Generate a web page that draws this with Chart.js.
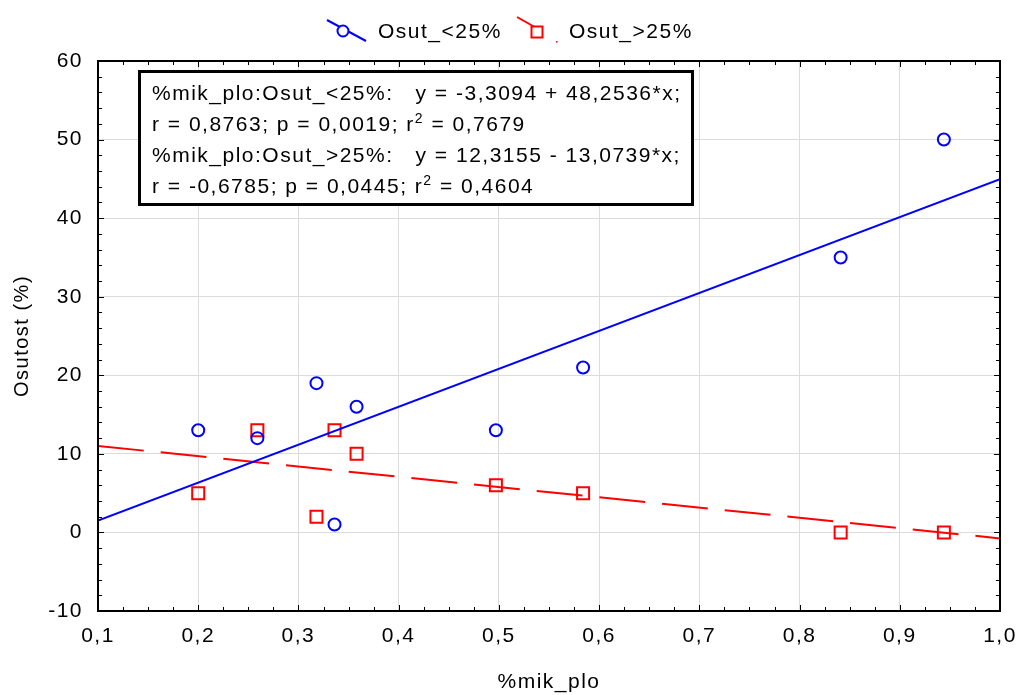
<!DOCTYPE html>
<html>
<head>
<meta charset="utf-8">
<script src="https://cdn.jsdelivr.net/npm/chart.js@4.4.1/dist/chart.umd.min.js"></script>
<style>
  body { margin: 0; background: #fff; }
</style>
</head>
<body>
<canvas id="chart" width="1017" height="695"></canvas>
<script>
// data
var x_low = [0.200, 0.259, 0.318, 0.336, 0.358, 0.497, 0.584, 0.841, 0.944];
var y_low = [13, 12, 19, 1, 16, 13, 21, 35, 50];
var x_high = [0.200, 0.259, 0.318, 0.336, 0.358, 0.497, 0.584, 0.841, 0.944];
var y_high = [5, 13, 2, 13, 10, 6, 5, 0, 0];

// regression coefficients printed in the box
var fit_low = [-3.3094, 48.2536];
var fit_high = [12.3155, -13.0739];
var fit_x = [0.1, 1.0];

var x_ticks = [0.1, 0.2, 0.3, 0.4, 0.5, 0.6, 0.7, 0.8, 0.9, 1.0];
var y_ticks = [-10, 0, 10, 20, 30, 40, 50, 60];

var series_names = ['Osut_<25%', 'Osut_>25%'];
var box_lines = [
    ['%mik_plo:Osut_<25%:   y = -3,3094 + 48,2536*x;'],
    ['r = 0,8763; p = 0,0019; r', '2', ' = 0,7679'],
    ['%mik_plo:Osut_>25%:   y = 12,3155 - 13,0739*x;'],
    ['r = -0,6785; p = 0,0445; r', '2', ' = 0,4604']
];

var BLUE = '#0000ff';
var RED = '#ff0000';
var FONT = '"Liberation Sans", Arial, sans-serif';
var SPACING = '1.5px';

function pts(xs, ys) {
    var out = [];
    for (var i = 0; i < xs.length; i++) out.push({x: xs[i], y: ys[i]});
    return out;
}

function fit_pts(coef) {
    return fit_x.map(function (x) { return {x: x, y: coef[0] + coef[1] * x}; });
}

function comma(v, d) {
    return v.toFixed(d).replace('.', ',');
}

// statistica text is spaced wider than plain arial
var spacing_plugin = {
    id: 'spacing',
    beforeUpdate: function (chart) { chart.ctx.letterSpacing = SPACING; },
    beforeDraw: function (chart) { chart.ctx.letterSpacing = SPACING; }
};

// inward ticks on all four sides + the frame
var frame_plugin = {
    id: 'frame',
    afterDraw: function (chart) {
        var ctx = chart.ctx, a = chart.chartArea;
        var xs = chart.scales.x, ys = chart.scales.y;
        ctx.save();
        ctx.strokeStyle = '#000';
        ctx.lineWidth = 1;
        ctx.beginPath();
        for (var i = 0; i <= 36; i++) {
            var px = Math.round(xs.getPixelForValue(0.1 + i * 0.025)) + 0.5;
            var len = (i % 4 == 0) ? 6 : 4;
            ctx.moveTo(px, a.bottom); ctx.lineTo(px, a.bottom - len);
            ctx.moveTo(px, a.top); ctx.lineTo(px, a.top + len);
        }
        for (var j = 0; j <= 35; j++) {
            var py = Math.round(ys.getPixelForValue(-10 + j * 2)) + 0.5;
            var len2 = (j % 5 == 0) ? 6 : 4;
            ctx.moveTo(a.left, py); ctx.lineTo(a.left + len2, py);
            ctx.moveTo(a.right, py); ctx.lineTo(a.right - len2, py);
        }
        ctx.stroke();
        ctx.lineWidth = 2;
        ctx.strokeRect(a.left, a.top, a.right - a.left, a.bottom - a.top);
        ctx.restore();
    }
};

// regression text box
var box_plugin = {
    id: 'statbox',
    afterDraw: function (chart) {
        var ctx = chart.ctx;
        ctx.save();
        ctx.fillStyle = '#fff';
        ctx.fillRect(139, 71, 553, 134);
        ctx.lineWidth = 3;
        ctx.strokeStyle = '#000';
        ctx.strokeRect(139.5, 71.5, 553, 133);
        ctx.fillStyle = '#000';
        ctx.textBaseline = 'alphabetic';
        for (var i = 0; i < box_lines.length; i++) {
            var x = 152, y = 100 + i * 31;
            var parts = box_lines[i];
            for (var k = 0; k < parts.length; k++) {
                var sup = (k == 1);
                ctx.font = (sup ? '14px ' : '21px ') + FONT;
                ctx.fillText(parts[k], x, sup ? y - 8 : y);
                x += ctx.measureText(parts[k]).width;
            }
        }
        ctx.restore();
    }
};

// legend in the statistica style: slanted line with a marker on it
var legend_plugin = {
    id: 'toplegend',
    afterDraw: function (chart) {
        var ctx = chart.ctx;
        ctx.save();
        ctx.lineWidth = 2;
        ctx.strokeStyle = BLUE;
        ctx.beginPath();
        ctx.moveTo(327, 20); ctx.lineTo(366, 41);
        ctx.stroke();
        ctx.fillStyle = '#fff';
        ctx.beginPath();
        ctx.arc(343, 31, 5.5, 0, Math.PI * 2);
        ctx.fill(); ctx.stroke();

        ctx.strokeStyle = RED;
        ctx.beginPath();
        ctx.moveTo(517, 17); ctx.lineTo(540, 30);
        ctx.stroke();
        ctx.fillRect(531, 26, 12, 12);
        ctx.strokeRect(531.5, 26.5, 11, 11);
        ctx.fillStyle = RED;
        ctx.fillRect(556, 41, 1.5, 1.5);

        ctx.fillStyle = '#000';
        ctx.font = '21px ' + FONT;
        ctx.textBaseline = 'middle';
        ctx.fillText(series_names[0], 378, 32);
        ctx.fillText(series_names[1], 569, 32);
        ctx.restore();
    }
};

var ctx = document.getElementById('chart');
var chart = new Chart(ctx, {
    type: 'scatter',
    data: {
        datasets: [
            {
                label: series_names[0] + ' fit',
                data: fit_pts(fit_low),
                showLine: true,
                borderColor: BLUE,
                borderWidth: 2,
                pointRadius: 0
            },
            {
                label: series_names[1] + ' fit',
                data: fit_pts(fit_high),
                showLine: true,
                borderColor: RED,
                borderWidth: 2,
                borderDash: [46, 17],
                pointRadius: 0
            },
            {
                label: series_names[0],
                data: pts(x_low, y_low),
                pointStyle: 'circle',
                pointRadius: 6,
                borderWidth: 2,
                borderColor: BLUE,
                backgroundColor: 'rgba(0,0,0,0)'
            },
            {
                label: series_names[1],
                data: pts(x_high, y_high),
                pointStyle: 'rect',
                pointRadius: 8.5,
                borderWidth: 2,
                borderColor: RED,
                backgroundColor: 'rgba(0,0,0,0)'
            }
        ]
    },
    options: {
        responsive: false,
        animation: false,
        layout: {
            padding: {top: 61, right: 17, left: 0, bottom: 0}
        },
        plugins: {
            legend: {display: false},
            tooltip: {enabled: false}
        },
        scales: {
            x: {
                type: 'linear',
                min: 0.1,
                max: 1.0,
                afterFit: function (s) {
                    s.height = 84;
                    s.paddingLeft = 0;
                    s.paddingRight = 0;
                },
                afterBuildTicks: function (s) { s.ticks = x_ticks.map(function (v) { return {value: v}; }); },
                grid: {color: '#dcdcdc', lineWidth: 1, drawTicks: false},
                border: {display: false},
                ticks: {
                    padding: 13,
                    color: '#000',
                    font: {family: FONT, size: 21},
                    maxRotation: 0,
                    callback: function (v) { return comma(v, 1); }
                },
                title: {
                    display: true,
                    text: '%mik_plo',
                    color: '#000',
                    font: {family: FONT, size: 21},
                    padding: {top: 0, bottom: 0}
                }
            },
            y: {
                type: 'linear',
                min: -10,
                max: 60,
                afterFit: function (s) {
                    s.width = 98;
                    s.paddingTop = 0;
                    s.paddingBottom = 0;
                },
                afterBuildTicks: function (s) { s.ticks = y_ticks.map(function (v) { return {value: v}; }); },
                grid: {color: '#dcdcdc', lineWidth: 1, drawTicks: false},
                border: {display: false},
                ticks: {
                    padding: 15,
                    color: '#000',
                    font: {family: FONT, size: 21},
                    callback: function (v) { return String(v); }
                },
                title: {
                    display: true,
                    text: 'Osutost (%)',
                    color: '#000',
                    font: {family: FONT, size: 20},
                    padding: {top: 10, bottom: 0}
                }
            }
        }
    },
    plugins: [spacing_plugin, frame_plugin, box_plugin, legend_plugin]
});
</script>
</body>
</html>
